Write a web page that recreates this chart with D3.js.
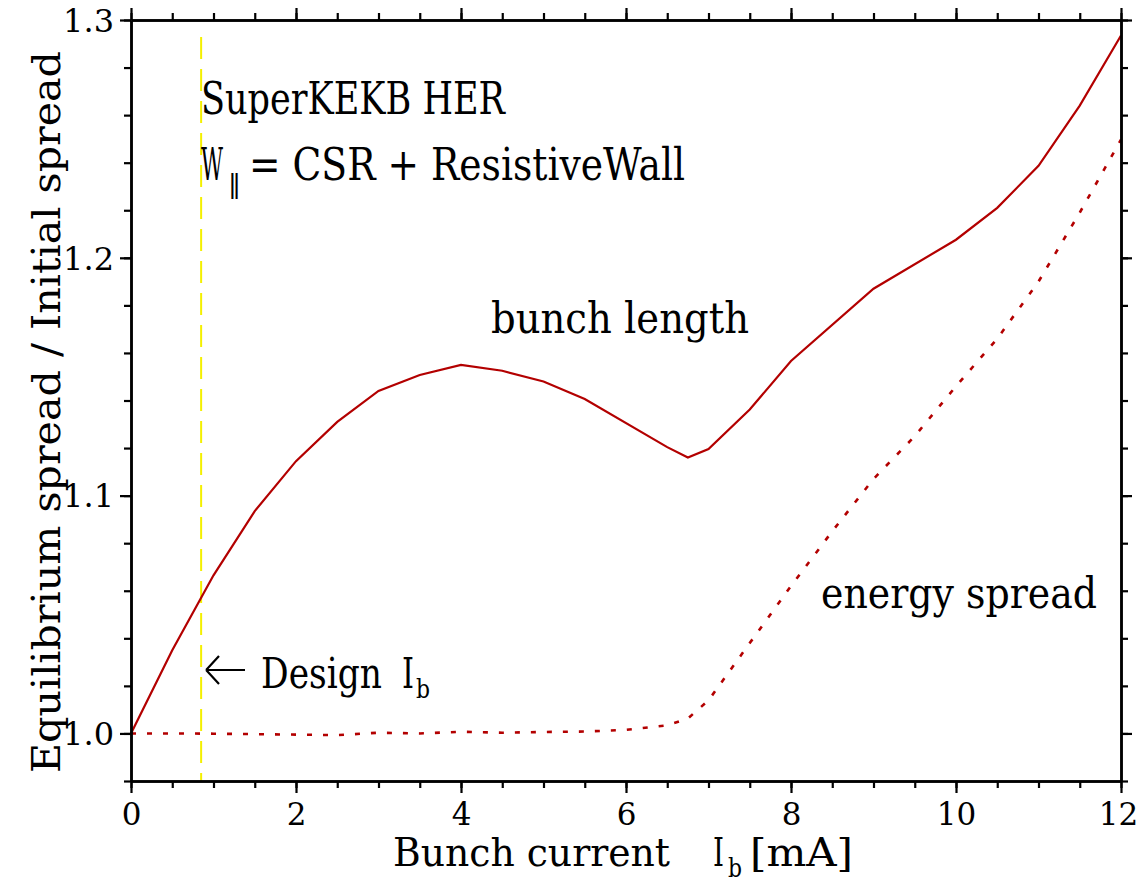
<!DOCTYPE html>
<html>
<head>
<meta charset="utf-8">
<script src="https://cdn.jsdelivr.net/npm/d3@7"></script>
<style>
  html, body { margin: 0; padding: 0; background: #fff; }
  svg text { font-family: "DejaVu Serif", "Liberation Serif", serif; fill: #000; }
</style>
</head>
<body>
<svg id="chart" width="1137" height="885"></svg>
<script>
// ---- data ----
const bunchLengthX = [0, 0.5, 1, 1.5, 2, 2.5, 3, 3.5, 4, 4.5, 5, 5.5, 6.5, 6.75, 7, 7.5, 8, 9, 10, 10.5, 11, 11.5, 12];
const bunchLengthY = [1.0, 1.035, 1.0665, 1.0935, 1.1145, 1.131, 1.144, 1.1507, 1.155, 1.1525, 1.148, 1.1406, 1.1204, 1.116, 1.1196, 1.1362, 1.1566, 1.187, 1.2076, 1.221, 1.2387, 1.264, 1.2935];
const energySpreadX = [0, 0.5, 1, 1.5, 2, 2.5, 3, 3.5, 4, 4.5, 5, 5.5, 6, 6.5, 6.75, 7, 7.5, 8, 8.5, 9, 9.5, 10, 10.5, 11, 11.5, 12];
const energySpreadY = [1.0, 1.0, 0.9999, 0.9997, 0.9995, 0.9993, 1.0003, 1.0, 1.0007, 1.0003, 1.0006, 1.0008, 1.0015, 1.0034, 1.0063, 1.0139, 1.038, 1.062, 1.085, 1.107, 1.125, 1.146, 1.166, 1.19, 1.219, 1.2497];
const designCurrent = 0.85;
const xTicks = [0, 2, 4, 6, 8, 10, 12];
const yTicks = [1.0, 1.1, 1.2, 1.3];
const xDomain = [0, 12];
const yDomain = [0.98, 1.3];

// ---- layout ----
const svg = d3.select("#chart");
const L = 131, R = 1121, T = 20, B = 781;
const x = d3.scaleLinear().domain(xDomain).range([L, R]);
const y = d3.scaleLinear().domain(yDomain).range([B, T]);
const red = "#b30000";

// design current line
svg.append("line")
  .attr("x1", x(designCurrent)).attr("x2", x(designCurrent))
  .attr("y1", 37).attr("y2", B)
  .attr("stroke", "#f4f000").attr("stroke-width", 2)
  .attr("stroke-dasharray", "22,10");

const line = d3.line().x(d => x(d[0])).y(d => y(d[1]));
svg.append("path")
  .datum(bunchLengthX.map((v, i) => [v, bunchLengthY[i]]))
  .attr("d", line).attr("fill", "none").attr("stroke", red).attr("stroke-width", 2.2);
svg.append("path")
  .datum(energySpreadX.map((v, i) => [v, energySpreadY[i]]))
  .attr("d", line).attr("fill", "none").attr("stroke", red).attr("stroke-width", 2.6)
  .attr("stroke-dasharray", "5,11");

// axes
const xMinor = d3.range(0, 12.001, 0.5);
const yMinor = d3.range(0.98, 1.3001, 0.02);
function styleAxis(g) {
  g.select(".domain").attr("stroke", "#000").attr("stroke-width", 2.5);
  g.selectAll(".tick line").attr("stroke", "#000").attr("stroke-width", 2.2);
}
function minor(axisFn, scale, vals) {
  return axisFn(scale).tickValues(vals).tickSize(7).tickFormat("").tickSizeOuter(0);
}
// bottom
svg.append("g").attr("transform", `translate(0,${B})`).call(minor(d3.axisBottom, x, xMinor)).call(styleAxis);
const gxb = svg.append("g").attr("transform", `translate(0,${B})`)
  .call(d3.axisBottom(x).tickValues(xTicks).tickSize(12).tickSizeOuter(0).tickPadding(6).tickFormat(d3.format("d")))
  .call(styleAxis);
gxb.selectAll("text").attr("font-size", 31).attr("fill", "#000").attr("dy", "0.85em")
  .style("font-family", "'DejaVu Serif', serif")
  .attr("dx", d => d === 12 ? -3 : 0);
// top
svg.append("g").attr("transform", `translate(0,${T})`).call(minor(d3.axisTop, x, xMinor)).call(styleAxis);
svg.append("g").attr("transform", `translate(0,${T})`)
  .call(d3.axisTop(x).tickValues(xTicks).tickSize(12).tickSizeOuter(0).tickFormat("")).call(styleAxis);
// left
svg.append("g").attr("transform", `translate(${L},0)`).call(minor(d3.axisLeft, y, yMinor)).call(styleAxis);
const gyl = svg.append("g").attr("transform", `translate(${L},0)`)
  .call(d3.axisLeft(y).tickValues(yTicks).tickSize(11).tickSizeOuter(0).tickPadding(6).tickFormat(d3.format(".1f")))
  .call(styleAxis);
gyl.selectAll("text").attr("font-size", 32).attr("fill", "#000").attr("dy", "0.35em")
  .style("font-family", "'DejaVu Serif', serif");
// right
svg.append("g").attr("transform", `translate(${R},0)`).call(minor(d3.axisRight, y, yMinor)).call(styleAxis);
svg.append("g").attr("transform", `translate(${R},0)`)
  .call(d3.axisRight(y).tickValues(yTicks).tickSize(11).tickSizeOuter(0).tickFormat("")).call(styleAxis);

// helper for fitted text
function txt(s, px, py, size, len) {
  const t = svg.append("text").attr("x", px).attr("y", py).attr("font-size", size).text(s);
  if (len) t.attr("textLength", len).attr("lengthAdjust", "spacingAndGlyphs");
  return t;
}

// axis titles
txt("Bunch current", 393, 866, 40, 277);
txt("I", 713, 866, 40, 11);
txt("b", 728, 877, 26, 14);
txt("[mA]", 750, 866, 40, 103);

svg.append("text")
  .attr("transform", "translate(60,412) rotate(-90)")
  .attr("text-anchor", "middle").attr("font-size", 40)
  .attr("textLength", 722).attr("lengthAdjust", "spacingAndGlyphs")
  .text("Equilibrium spread / Initial spread");

// annotations
txt("SuperKEKB HER", 201, 114, 44, 304);
txt("W", 201, 180, 44, 22);
txt("\u2016", 228, 193, 26);
txt("= CSR + ResistiveWall", 249, 180, 44, 436);

txt("bunch length", 491, 333, 42, 258);
txt("energy spread", 821, 608, 42, 276);

// Design Ib arrow + text
svg.append("path")
  .attr("d", `M${x(designCurrent)+5},670 H245 M${x(designCurrent)+5},670 L219,656 M${x(designCurrent)+5},670 L219,684`)
  .attr("stroke", "#000").attr("stroke-width", 2.2).attr("fill", "none");
txt("Design", 261, 688, 42, 121);
txt("I", 402, 688, 42, 12);
txt("b", 416, 698, 26, 14);
</script>
</body>
</html>
